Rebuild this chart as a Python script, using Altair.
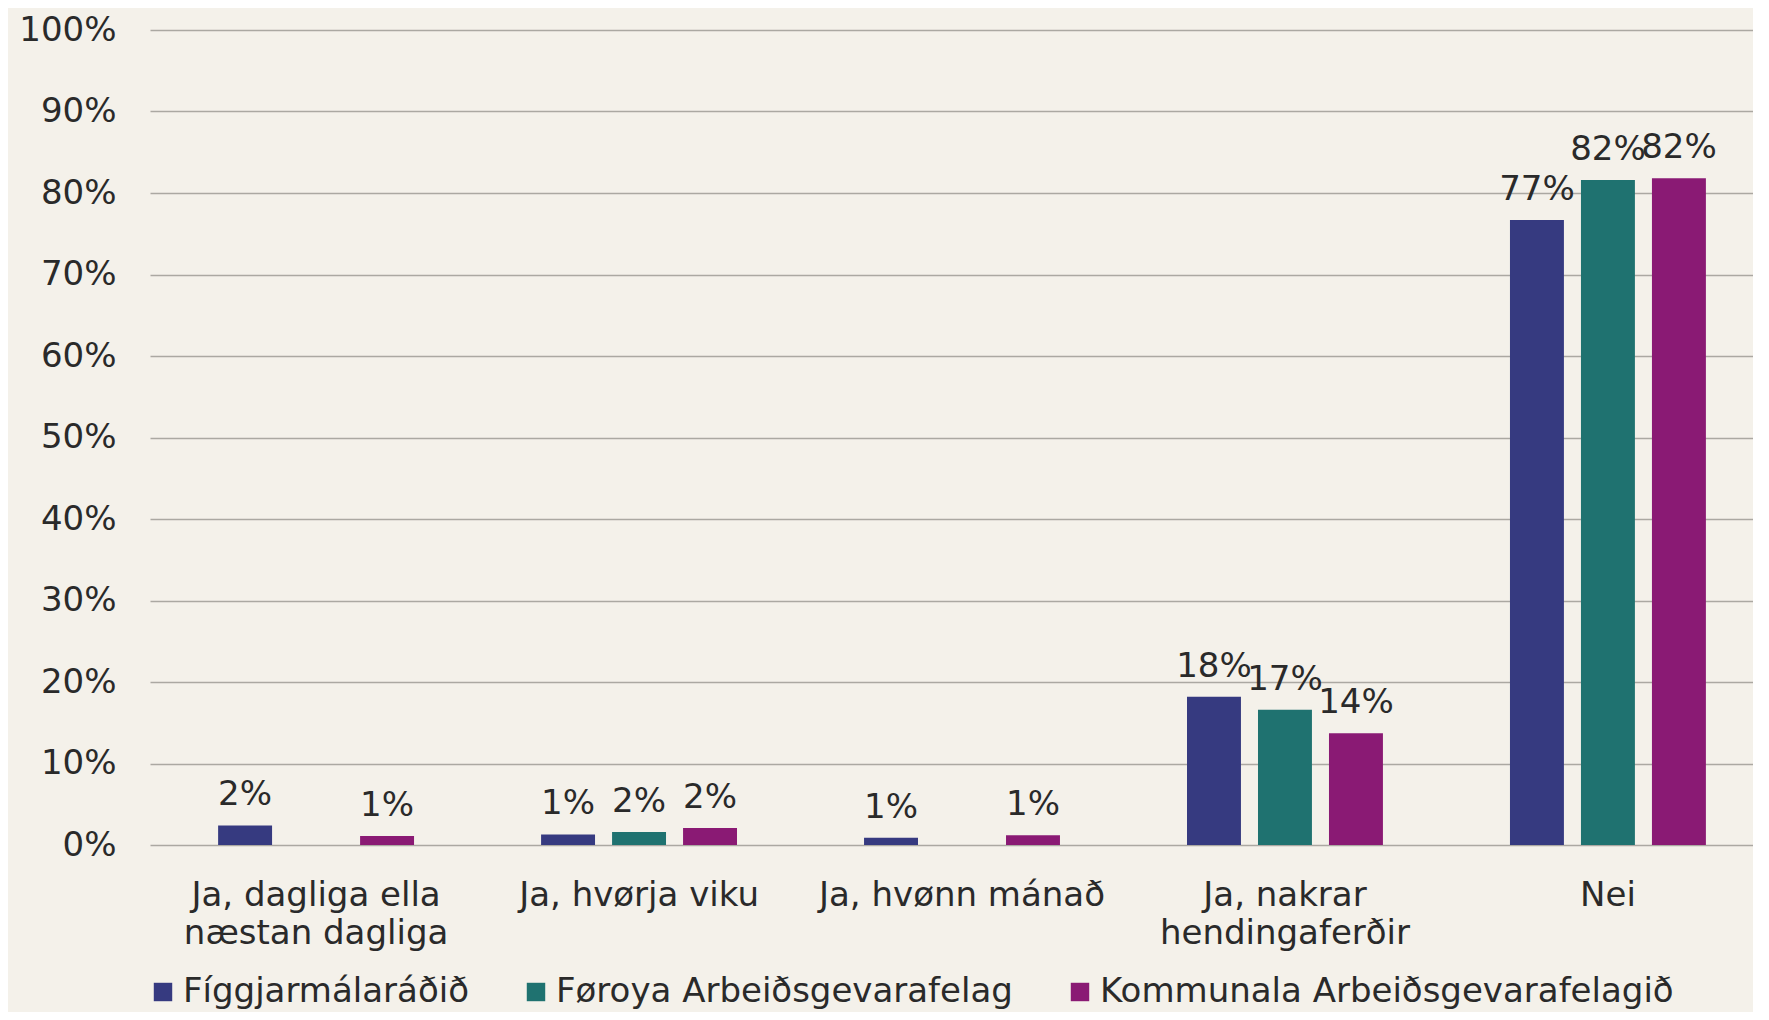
import altair as alt
import pandas as pd

# ---- data ----
categories = [
    "Ja, dagliga ella\nnæstan dagliga",
    "Ja, hvørja viku",
    "Ja, hvønn mánað",
    "Ja, nakrar\nhendingaferðir",
    "Nei",
]
series = ["Fíggjarmálaráðið", "Føroya Arbeiðsgevarafelag", "Kommunala Arbeiðsgevarafelagið"]
figgjarmalaradid = [2.4, 1.3, 0.9, 18.2, 76.7]
foroya_arbeidsgevarafelag = [0.0, 1.6, 0.0, 16.6, 81.6]
kommunala_arbeidsgevarafelagid = [1.1, 2.1, 1.2, 13.7, 81.8]
colors = ["#363a80", "#1f7270", "#8a1a74"]
y_ticks = [0, 10, 20, 30, 40, 50, 60, 70, 80, 90, 100]

rows = []
for s, vals in zip(series, [figgjarmalaradid, foroya_arbeidsgevarafelag, kommunala_arbeidsgevarafelagid]):
    for c, v in zip(categories, vals):
        rows.append({"category": c, "series": s, "value": v})
df = pd.DataFrame(rows)

FONT = "DejaVu Sans"
TXT = "#2a2a2a"

x_enc = alt.X(
    "category:N",
    sort=categories,
    scale=alt.Scale(paddingInner=0.3406, paddingOuter=0.152, align=0.607),
    axis=alt.Axis(
        title=None,
        labelExpr="split(datum.label, '\\n')",
        labelAngle=0,
        labelFontSize=34,
        labelFont=FONT,
        labelColor=TXT,
        labelPadding=33,
        labelLineHeight=38,
        labelLimit=1000,
        labelOverlap=False,
        ticks=False,
        domain=False,
        grid=False,
    ),
)
xoff_enc = alt.XOffset("series:N", sort=series, scale=alt.Scale(paddingInner=0.24, paddingOuter=0.12))
y_enc = alt.Y(
    "value:Q",
    scale=alt.Scale(domain=[0, 100], nice=False),
    axis=alt.Axis(
        title=None,
        values=y_ticks,
        labelExpr="datum.value + '%'",
        labelFontSize=34,
        labelFont=FONT,
        labelColor=TXT,
        labelPadding=34,
        domain=False,
        ticks=False,
        grid=True,
        gridColor="#aba8a2",
        gridWidth=1.5,
    ),
)

bars = alt.Chart(df).mark_bar().encode(
    x=x_enc,
    xOffset=xoff_enc,
    y=y_enc,
    color=alt.Color(
        "series:N",
        sort=series,
        scale=alt.Scale(domain=series, range=colors),
        legend=alt.Legend(
            orient="none",
            legendX=-4,
            legendY=945,
            direction="horizontal",
            title=None,
            labelFontSize=34,
            labelFont=FONT,
            labelColor=TXT,
            symbolType="square",
            symbolSize=340,
            symbolStrokeWidth=0,
            labelOffset=3,
            columnPadding=50,
            labelLimit=1000,
            padding=0,
        ),
    ),
)

labels = (
    alt.Chart(df)
    .transform_filter("datum.value > 0")
    .transform_calculate(label="format(datum.value, '.0f') + '%'")
    .mark_text(dy=-20, baseline="alphabetic", align="center", fontSize=34, font=FONT, color=TXT)
    .encode(x=x_enc, xOffset=xoff_enc, y=y_enc, text="label:N")
)

chart = (
    alt.layer(bars, labels)
    .properties(
        width=1603,
        height=815,
        autosize=alt.AutoSizeParams(type="none"),
        padding={"left": 142, "top": 22, "right": 0, "bottom": 167},
        background="#f4f1ea",
    )
    .configure_view(stroke=None)
)

chart.save("out.html", embed_options={"renderer": "svg", "actions": False})
